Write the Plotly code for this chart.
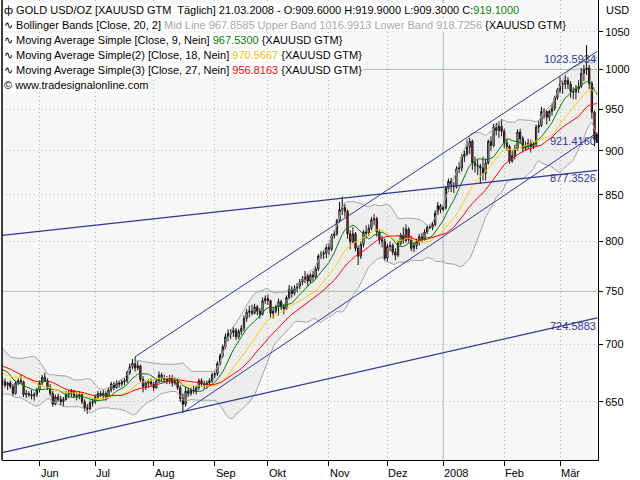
import numpy as np
import pandas as pd
import plotly.graph_objects as go

# ---------------- data ----------------
first_date = "2007-04-06"      # first bar of the series (warm-up for the averages)
first_shown = "2007-05-14"     # first bar visible in the window
last_date = "2008-03-21"

# closes 06.04.2007 - 11.05.2007 (only used to seed the averages)
warmup_closes = [684, 688, 690, 692, 694, 697, 698, 696, 694,
                 688, 682, 676, 672, 668, 666, 664, 667, 662,
                 672, 680, 686, 688, 684, 682, 672, 669]

# daily OHLC 14.05.2007 - 21.03.2008 (every weekday)
opens = [
    668, 667, 664, 666, 663, 657, 666, 668, 667, 656, 657, 656, 655, 656,                      # May
    660, 666, 671, 668, 662, 657, 648, 654, 652, 650, 652, 656, 657, 659, 655, 654, 656, 650, 645, 644, 649,  # Jun
    650, 654, 657, 655, 657, 654, 660, 665, 662, 666, 665, 667, 668, 675, 680, 683, 679, 681, 669, 663, 666, 667,  # Jul
    665, 662, 668, 673, 670, 669, 668, 671, 666, 667, 662, 653, 648, 659, 657, 660, 659, 662, 668, 665, 664, 666, 668,  # Aug
    673, 674, 683, 690, 698, 707, 710, 711, 713, 707, 712, 715, 724, 730, 731, 729, 735, 731, 728, 741,  # Sep
    743, 741, 729, 731, 735, 740, 735, 733, 744, 752, 748, 753, 755, 759, 762, 765, 760, 766, 764, 772, 785, 787, 788,  # Oct
    794, 792, 806, 808, 822, 834, 836, 832, 808, 800, 808, 793, 785, 797, 810, 809, 814, 823, 824, 810, 802, 800,  # Nov
    783, 795, 796, 789, 786, 798, 806, 801, 813, 802, 793, 796, 800, 805, 803, 810, 815, 815, 818, 830, 838,  # Dec
    834, 836, 857, 865, 859, 859, 879, 880, 893, 896, 904, 911, 886, 883, 882, 880, 874, 886, 911, 906, 928, 924, 929,  # Jan
    923, 909, 905, 888, 894, 902, 922, 914, 903, 905, 909, 905, 908, 928, 930, 947, 947, 940, 947, 951, 964,  # Feb
    973, 981, 981, 986, 981, 972, 971, 975, 978, 995, 1000, 1002, 982, 946, 909.6,  # Mar
]
highs = [
    671, 670, 667, 668, 665, 668, 670, 673, 668, 660, 659, 660, 658, 662,
    668, 673, 675, 670, 665, 659, 656, 657, 655, 654, 659, 660, 661, 660, 658, 659, 657, 652, 648, 651, 653,
    656, 659, 659, 660, 659, 662, 667, 667, 668, 668, 669, 670, 677, 683, 687, 689, 685, 682, 672, 668, 669, 670,
    667, 670, 676, 675, 673, 672, 673, 673, 671, 670, 664, 657, 663, 662, 662, 664, 664, 670, 670, 668, 668, 670, 675,
    676, 685, 692, 700, 710, 714, 714, 716, 715, 714, 718, 727, 733, 736, 737, 738, 737, 734, 744, 746,
    747, 742, 734, 737, 743, 742, 738, 746, 756, 755, 756, 758, 762, 765, 770, 767, 768, 770, 775, 787, 790, 791, 797,
    798, 808, 812, 824, 842, 848, 840, 834, 812, 815, 810, 796, 800, 812, 817, 818, 826, 829, 826, 813, 806, 803,
    798, 800, 798, 793, 801, 809, 815, 818, 815, 806, 799, 803, 808, 809, 813, 817, 817, 821, 833, 842, 840,
    838, 860, 868, 869, 864, 882, 887, 896, 900, 913, 915, 913, 893, 890, 885, 893, 891, 913, 917, 932, 933, 935, 938,
    926, 914, 907, 900, 907, 925, 926, 917, 911, 914, 913, 911, 931, 936, 953, 951, 948, 949, 957, 966, 976,
    990, 986, 993, 990, 985, 977, 980, 986, 1002, 1006, 1032, 1006, 985, 948, 919.9,
]
lows = [
    664, 662, 660, 661, 655, 656, 664, 665, 654, 653, 654, 652, 651, 654,
    658, 664, 667, 660, 655, 646, 647, 650, 647, 646, 651, 653, 654, 653, 651, 652, 648, 642, 640, 643, 646,
    648, 652, 654, 652, 651, 653, 658, 660, 661, 662, 663, 664, 666, 673, 678, 676, 677, 667, 658, 660, 662, 663,
    659, 661, 666, 667, 666, 665, 665, 663, 664, 660, 650, 641, 646, 654, 655, 657, 656, 660, 663, 661, 661, 663, 666,
    670, 672, 681, 688, 696, 703, 705, 707, 704, 705, 709, 712, 721, 725, 727, 728, 727, 724, 727, 738,
    737, 725, 724, 729, 727, 732, 728, 732, 742, 744, 746, 749, 752, 756, 758, 755, 758, 760, 762, 770, 782, 782, 783,
    786, 790, 803, 806, 820, 828, 826, 803, 792, 798, 790, 776, 782, 794, 803, 806, 812, 817, 805, 797, 794, 780,
    780, 790, 786, 781, 784, 796, 798, 799, 799, 790, 789, 792, 796, 799, 801, 808, 813, 812, 816, 828, 830,
    832, 834, 853, 853, 852, 857, 874, 876, 887, 894, 896, 878, 875, 872, 862, 866, 866, 884, 900, 904, 918, 915, 917,
    903, 900, 885, 886, 890, 900, 908, 898, 900, 902, 898, 902, 905, 921, 928, 938, 931, 935, 942, 948, 961,
    970, 969, 975, 975, 964, 962, 962, 970, 976, 985, 993, 975, 938, 905, 909.3,
]
closes = [
    667, 664, 666, 663, 657, 666, 668, 667, 656, 657, 656, 655, 656, 660,
    666, 671, 668, 662, 657, 648, 654, 652, 650, 652, 656, 657, 659, 655, 654, 656, 650, 645, 644, 649, 650,
    654, 657, 655, 657, 654, 660, 665, 662, 666, 665, 667, 668, 675, 680, 683, 679, 681, 669, 663, 666, 667, 665,
    662, 668, 673, 670, 669, 668, 671, 666, 667, 662, 653, 648, 659, 657, 660, 659, 662, 668, 665, 664, 666, 668, 673,
    674, 683, 690, 698, 707, 710, 711, 713, 707, 712, 715, 724, 730, 731, 729, 735, 731, 728, 741, 743,
    741, 729, 731, 735, 740, 735, 733, 744, 752, 748, 753, 755, 759, 762, 765, 760, 766, 764, 772, 785, 787, 788, 794,
    792, 806, 808, 822, 834, 836, 832, 808, 800, 808, 793, 785, 797, 810, 809, 814, 823, 824, 810, 802, 800, 783,
    795, 796, 789, 786, 798, 806, 801, 813, 802, 793, 796, 800, 805, 803, 810, 815, 815, 818, 830, 838, 834,
    836, 857, 865, 859, 859, 879, 880, 893, 896, 904, 911, 886, 883, 882, 880, 874, 886, 911, 906, 928, 924, 929, 923,
    909, 905, 888, 894, 902, 922, 914, 903, 905, 909, 905, 908, 928, 930, 947, 947, 940, 947, 951, 964, 973,
    981, 981, 986, 981, 972, 971, 975, 978, 995, 1000, 1002, 982, 946, 913, 919.1,
]

month_starts = ["2007-06-01", "2007-07-01", "2007-08-01", "2007-09-01", "2007-10-01",
                "2007-11-01", "2007-12-01", "2008-01-01", "2008-02-01", "2008-03-01"]
month_labels = ["Jun", "Jul", "Aug", "Sep", "Okt", "Nov", "Dez", "2008", "Feb", "Mär"]
year_start = "2008-01-01"

price_ticks = [650, 700, 750, 800, 850, 900, 950, 1000, 1050]
major_price_lines = [750, 1000]
price_min, price_max = 602.7, 1094.2

# hand-drawn trend lines: start (date, price) -> end (date, price)
trend_start_dates = ["2007-07-23", "2007-08-16", "2007-05-14", "2007-05-14"]
trend_start_prices = [689.0, 641.0, 806.5, 608.5]
trend_end_dates = ["2008-03-21", "2008-03-21", "2008-03-21", "2008-03-21"]
trend_end_prices = [1023.5934, 921.4160, 877.3526, 724.5883]

ma_periods = [9, 18, 27]
bb_period, bb_width = 20, 2

legend_rows = [
    ("ф", "GOLD USD/OZ [XAUUSD GTM\u00a0 Täglich] 21.03.2008 - O:909.6000 H:919.9000 L:909.3000 C:", "919.1000", ""),
    ("∿", "Bollinger Bands [Close, 20, 2] ", "Mid Line 967.8585 Upper Band 1016.9913 Lower Band 918.7256", " {XAUUSD GTM}"),
    ("∿", "Moving Average Simple [Close, 9, Nein] ", "967.5300", " {XAUUSD GTM}"),
    ("∿", "Moving Average Simple(2) [Close, 18, Nein] ", "970.5667", " {XAUUSD GTM}"),
    ("∿", "Moving Average Simple(3) [Close, 27, Nein] ", "956.8163", " {XAUUSD GTM}"),
    ("©", "www.tradesignalonline.com", "", ""),
]

# ---------------- styles ----------------
FONT = "Liberation Sans, Arial, sans-serif"
GRID = "#a9c2a9"
MAJOR = "#b2c2b2"
TREND = "#333399"
ma_colors = ["#008000", "#ffd000", "#ff0000"]
legend_value_colors = ["#008000", "#a8a8a8", "#008000", "#f0c000", "#ff0000", "#000000"]
trend_widths = [1, 1, 1.25, 1.25]

# ---------------- build ----------------
dates = pd.bdate_range(first_date, last_date)
n_warm = len(warmup_closes)
assert len(dates) == n_warm + len(closes), (len(dates), n_warm + len(closes))
idx = np.arange(len(dates))


def pos(d):
    return int(np.searchsorted(dates.values, np.datetime64(pd.Timestamp(d))))


shown = idx[n_warm:]
all_close = pd.Series(warmup_closes + closes, dtype=float)

fig = go.Figure()

# Bollinger bands
mid = all_close.rolling(bb_period).mean()
sd = all_close.rolling(bb_period).std(ddof=0)
upper = (mid + bb_width * sd).values[n_warm:]
lower = (mid - bb_width * sd).values[n_warm:]
fig.add_trace(go.Scatter(x=shown, y=upper, mode="lines", line=dict(color="#a4a4a4", width=1),
                         hoverinfo="skip", showlegend=False))
fig.add_trace(go.Scatter(x=shown, y=lower, mode="lines", line=dict(color="#a4a4a4", width=1),
                         fill="tonexty", fillcolor="rgba(170,170,170,0.13)",
                         hoverinfo="skip", showlegend=False))

# candles
fig.add_trace(go.Candlestick(
    x=shown, open=opens, high=highs, low=lows, close=closes,
    increasing=dict(line=dict(color="black", width=1), fillcolor="white"),
    decreasing=dict(line=dict(color="black", width=1), fillcolor="#ff0000"),
    whiskerwidth=0, showlegend=False))

# moving averages
for p, c in zip(ma_periods, ma_colors):
    ma = all_close.rolling(p).mean().values[n_warm:]
    fig.add_trace(go.Scatter(x=shown, y=ma, mode="lines", line=dict(color=c, width=1),
                             hoverinfo="skip", showlegend=False))

# trend lines
for sdt, sp, edt, ep, w in zip(trend_start_dates, trend_start_prices, trend_end_dates, trend_end_prices, trend_widths):
    fig.add_trace(go.Scatter(x=[pos(sdt), pos(edt)], y=[sp, ep], mode="lines",
                             line=dict(color=TREND, width=w), hoverinfo="skip", showlegend=False))

annotations = []
for ep in trend_end_prices:
    annotations.append(dict(xref="paper", x=1, xanchor="right", yref="y", y=np.log10(ep), yanchor="top",
                            text=f"{ep:.4f}", showarrow=False, font=dict(family=FONT, size=11, color=TREND)))

month_idx = [pos(m) for m in month_starts]
for mi, lab in zip(month_idx, month_labels):
    annotations.append(dict(xref="x", x=mi, xanchor="left", xshift=-1, yref="paper", y=0, yanchor="top",
                            yshift=-5, text=lab, showarrow=False, font=dict(family=FONT, size=11, color="black")))

annotations.append(dict(xref="paper", x=1, xanchor="left", xshift=6, yref="paper", y=1, yanchor="top",
                        yshift=-2, text="USD", showarrow=False, font=dict(family=FONT, size=11, color="black")))

plot_h = 460.0
for k, ((icon, main, val, tail), vc) in enumerate(zip(legend_rows, legend_value_colors)):
    txt = f"{icon} {main}"
    if val:
        txt += f"<span style='color:{vc}'>{val}</span>"
    txt += tail
    yc = 10 + 15.1 * k
    annotations.append(dict(xref="paper", x=0, xanchor="left", xshift=1, yref="paper", y=1 - yc / plot_h,
                            yanchor="middle", text=txt, showarrow=False, bgcolor="white", borderpad=0,
                            font=dict(family=FONT, size=11, color="black")))

shapes = [dict(type="line", xref="x", x0=pos(year_start), x1=pos(year_start), yref="paper", y0=0, y1=1,
               line=dict(color=MAJOR, width=1), layer="between")]
for v in major_price_lines:
    shapes.append(dict(type="line", xref="paper", x0=0, x1=1, yref="y", y0=v, y1=v,
                       line=dict(color=MAJOR, width=1), layer="between"))
shapes.append(dict(type="line", xref="paper", x0=0, x1=0, yref="paper", y0=0, y1=1,
                   line=dict(color="black", width=1.5), layer="above"))

fig.update_layout(
    width=640, height=480, margin=dict(l=2, r=42, t=0, b=20),
    paper_bgcolor="white", plot_bgcolor="#f7f7f7",
    font=dict(family=FONT, size=11, color="black"),
    annotations=annotations, shapes=shapes, showlegend=False,
    xaxis=dict(range=[pos(first_shown) - 0.12, pos(last_date) + 0.31],
               tickvals=month_idx, showticklabels=False, ticks="outside", ticklen=5, tickwidth=1,
               tickcolor="black", showgrid=True, gridcolor=GRID, griddash="1px,3px", gridwidth=1,
               showline=True, linecolor="black", linewidth=1, zeroline=False,
               rangeslider=dict(visible=False), fixedrange=True),
    yaxis=dict(type="log", range=[np.log10(price_min), np.log10(price_max)], side="right",
               tickvals=price_ticks, ticktext=[str(t) for t in price_ticks],
               ticks="outside", ticklen=4, tickwidth=1, tickcolor="black",
               showgrid=True, gridcolor=GRID, griddash="1px,3px", gridwidth=1,
               showline=True, linecolor="black", linewidth=1, zeroline=False, fixedrange=True,
               tickfont=dict(family=FONT, size=11, color="black")),
)

fig.write_html("out.html")
